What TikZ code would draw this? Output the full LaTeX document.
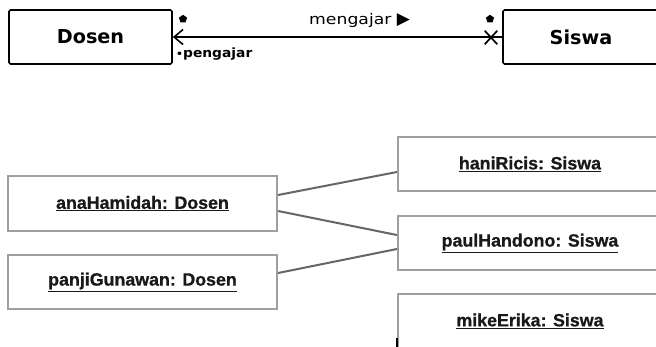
\documentclass[tikz,border=0pt]{standalone}
\usepackage{fontspec}
\usetikzlibrary{arrows.meta,shapes.geometric,shapes.misc}
\newfontfamily\djfont{DejaVu Sans}
\newfontfamily\djwide[FakeStretch=1.18]{DejaVu Sans}
\newfontfamily\djbwide[FakeStretch=1.08]{DejaVu Sans Bold}
\newfontfamily\lsbold[FakeBold=0.8]{Liberation Sans Bold}
\tikzset{
  classbox/.style={draw=black, line width=1.6pt, rounded corners=1.5pt, minimum width=163pt, minimum height=54pt, inner sep=0pt, font=\djfont\bfseries\fontsize{19.2}{22}\selectfont},
  objbox/.style={draw=gray!75, line width=2.2pt, minimum height=54pt, inner sep=0pt, text=black!90, font=\lsbold\fontsize{17.8}{21}\selectfont},
  link/.style={draw=gray!80!black, line width=2pt},
  marker/.style={regular polygon, regular polygon sides=5, fill=black, minimum size=8.5pt, inner sep=0pt},
}
\begin{document}
\begin{tikzpicture}[x=1pt,y=-1pt]
\useasboundingbox (0,0) rectangle (656,346);
\fill[white] (0,0) rectangle (656,346);
\clip (0,0) rectangle (656,346);
% class diagram
\node[classbox] (dosen) at (90.5,37) {Dosen};
\node[classbox, minimum width=156pt] (siswa) at (581,37) {Siswa};
\draw[line width=1.6pt, {Straight Barb[length=9pt,width=15pt,line width=1.6pt]}-] (dosen.east) -- (siswa.west);
\node[draw, cross out, line width=1.7pt, minimum width=11pt, minimum height=12pt, inner sep=0pt] (xmark) at (491,37.5) {};
\node[marker] (m1) at (183,19) {};
\node[marker] (m2) at (490,19) {};
\node[anchor=west, inner sep=0pt, font=\djwide\fontsize{14.6}{17}\selectfont] (lbl) at (309,20) {mengajar \djfont\fontsize{17}{18}\selectfont▶};
\node[anchor=west, inner sep=0pt, font=\djbwide\fontsize{12.8}{15}\selectfont] (role) at (176,54) {\fontsize{10}{10}\selectfont•\fontsize{12.8}{15}\selectfont pengajar};
% object diagram
\node[objbox, minimum width=269pt, minimum height=55pt] (ana) at (142.5,203.5) {\underline{anaHamidah: Dosen}};
\node[objbox, minimum width=269pt] (panji) at (142.5,282) {\underline{panjiGunawan: Dosen}};
\node[objbox, minimum width=264pt] (hani) at (530,164) {\underline{haniRicis: Siswa}};
\node[objbox, minimum width=264pt] (paul) at (530,243) {\underline{paulHandono: Siswa}};
\node[objbox, minimum width=264pt] (mike) at (530,321) {\underline{mikeErika: Siswa}};
\draw[link] ([yshift=8.5pt]ana.east) -- ([yshift=-8pt]hani.west);
\draw[link] ([yshift=-7.5pt]ana.east) -- ([yshift=8pt]paul.west);
\draw[link] ([yshift=9pt]panji.east) -- ([yshift=-6pt]paul.west);
\coordinate (mk) at ([yshift=-17pt]mike.west);
\draw[black, line width=2pt] (mk) -- ++(0,12);
\end{tikzpicture}
\end{document}
